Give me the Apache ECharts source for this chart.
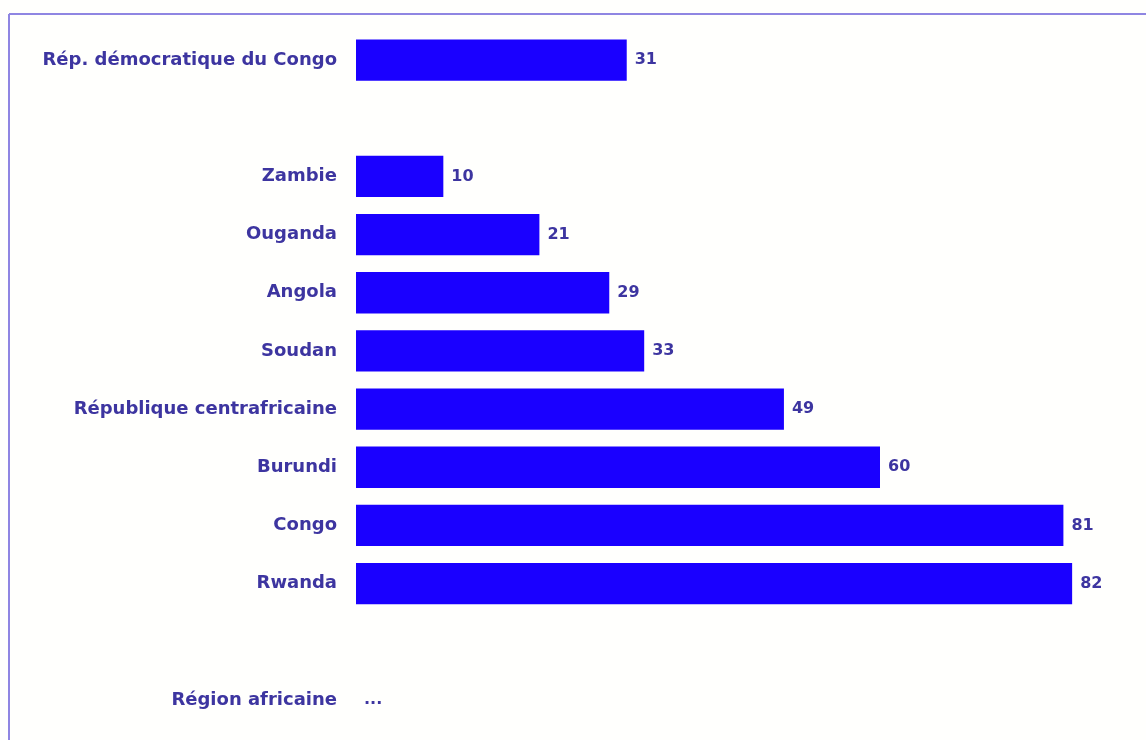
<!DOCTYPE html>
<html>
<head>
<meta charset="utf-8">
<script src="https://cdn.jsdelivr.net/npm/echarts@6/dist/echarts.min.js"></script>
<style>
  html, body { margin: 0; padding: 0; background: #fffffd; }
  #chart-container { width: 1146px; height: 740px; }
</style>
</head>
<body>
<div id="chart-container"></div>
<script>
// rows from top to bottom, '' rows are the empty gaps
let categories = ['Rép. démocratique du Congo', '', 'Zambie', 'Ouganda', 'Angola', 'Soudan',
    'République centrafricaine', 'Burundi', 'Congo', 'Rwanda', '', 'Région africaine']
let values = [31, null, 10, 21, 29, 33, 49, 60, 81, 82, null, 0]
let valueLabels = ['31', '', '10', '21', '29', '33', '49', '60', '81', '82', '', '...']

let barData = []
for (let i = 0; i < values.length; i++) {
    barData.push({
        value: values[i],
        label: { formatter: valueLabels[i] }
    })
}

let dom = document.getElementById('chart-container')
let myChart = echarts.init(dom, null, { renderer: 'canvas' })

let textFont = 'DejaVu Sans, Verdana, sans-serif'
let option = {
    backgroundColor: '#fffffd',
    animation: false,
    graphic: [
        { type: 'line', shape: { x1: 9, y1: 14, x2: 1146, y2: 14 }, style: { stroke: '#8f86e2', lineWidth: 2 } },
        { type: 'line', shape: { x1: 9, y1: 14, x2: 9, y2: 740 }, style: { stroke: '#8f86e2', lineWidth: 2 } }
    ],
    grid: { left: 356, top: 31, width: 786, height: 698 },
    xAxis: {
        type: 'value',
        min: 0,
        max: 90,
        show: false
    },
    yAxis: {
        type: 'category',
        data: categories,
        inverse: true,
        axisLine: { show: false },
        axisTick: { show: false },
        splitLine: { show: false },
        axisLabel: {
            margin: 19,
            color: '#3d35a0',
            fontFamily: textFont,
            fontWeight: 'bold',
            fontSize: 18
        }
    },
    series: [
        {
            type: 'bar',
            data: barData,
            barCategoryGap: '29%',
            itemStyle: { color: '#1a00ff' },
            label: {
                show: true,
                position: 'right',
                distance: 8,
                color: '#3d35a0',
                fontFamily: textFont,
                fontWeight: 'bold',
                fontSize: 16
            }
        }
    ]
}
myChart.setOption(option)
window.addEventListener('resize', myChart.resize)
</script>
</body>
</html>
